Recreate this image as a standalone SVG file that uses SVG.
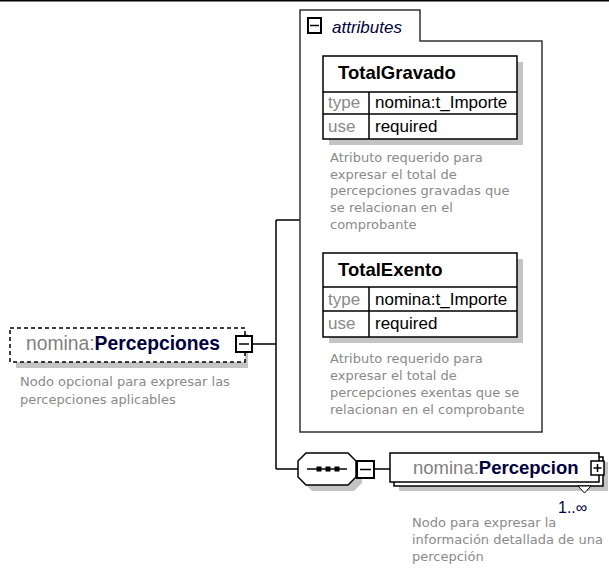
<svg xmlns="http://www.w3.org/2000/svg" width="609" height="579" viewBox="0 0 609 579">
<style>
.lbl{font-family:"Liberation Sans",Arial,sans-serif;font-size:18.5px}
.ns{fill:#7f7f7f}
.nm{fill:#000040;font-weight:bold}
.cell{font-family:"Liberation Sans",Arial,sans-serif;font-size:17px;fill:#000}
.key{fill:#8a8a8a}
.desc{font-family:"DejaVu Sans","Liberation Sans",sans-serif;font-size:13px;fill:#8a8a8a}
.ln{stroke:#000;stroke-width:1.5;fill:none}
.sh{fill:#c4c4c4}
.box{fill:#fff;stroke:#000;stroke-width:1.5}
.btn{fill:#fff;stroke:#000;stroke-width:2}
</style>
<rect x="0" y="0" width="609" height="1.5" fill="#000"/>

<g id="connectors">
<path class="ln" d="M253,344 H276 M276,220 V469 M276,220 H300 M276,469 H298 M375,469 H390"/>
</g>

<g id="attributes">
<path d="M300,432 V10 H420 V41 H542 V432 Z" fill="#fff" stroke="#333" stroke-width="1.5"/>
<rect class="btn" x="308" y="18" width="13" height="15"/>
<line x1="310" y1="25.5" x2="319" y2="25.5" stroke="#000" stroke-width="1.5"/>
<text x="332" y="33" class="lbl" style="font-style:italic;font-size:17px" fill="#000040">attributes</text>
</g>

<g id="TotalGravado">
<rect class="sh" x="329" y="62" width="194" height="83"/>
<rect class="box" x="323" y="56" width="194" height="83"/>
<path class="ln" d="M323,92 H517 M323,114 H517 M369,92 V139" stroke-width="1"/>
<text x="338" y="79" class="lbl nm" style="fill:#000">TotalGravado</text>
<text x="328" y="108" class="cell key">type</text>
<text x="375" y="108" class="cell">nomina:t_Importe</text>
<text x="328" y="132" class="cell key">use</text>
<text x="375" y="132" class="cell">required</text>
<text class="desc"><tspan x="330" y="162">Atributo requerido para</tspan><tspan x="330" y="179">expresar el total de</tspan><tspan x="330" y="195">percepciones gravadas que</tspan><tspan x="330" y="212">se relacionan en el</tspan><tspan x="330" y="229">comprobante</tspan></text>
</g>

<g id="TotalExento">
<rect class="sh" x="329" y="259" width="194" height="84"/>
<rect class="box" x="323" y="253" width="194" height="84"/>
<path class="ln" d="M323,287 H517 M323,311 H517 M369,287 V337" stroke-width="1"/>
<text x="338" y="276" class="lbl nm" style="fill:#000">TotalExento</text>
<text x="328" y="305" class="cell key">type</text>
<text x="375" y="305" class="cell">nomina:t_Importe</text>
<text x="328" y="329" class="cell key">use</text>
<text x="375" y="329" class="cell">required</text>
<text class="desc"><tspan x="330" y="363">Atributo requerido para</tspan><tspan x="330" y="380">expresar el total de</tspan><tspan x="330" y="397">percepciones exentas que se</tspan><tspan x="330" y="414">relacionan en el comprobante</tspan></text>
</g>

<g id="Percepciones">
<rect class="sh" x="16" y="334" width="232" height="34"/>
<rect x="10" y="328" width="235" height="34" fill="#fff" stroke="#000" stroke-width="1.5" stroke-dasharray="4,3"/>
<text x="26" y="350" class="lbl" style="font-size:19.3px"><tspan class="ns">nomina:</tspan><tspan class="nm">Percepciones</tspan></text>
<rect class="btn" x="236" y="336" width="16" height="16"/>
<line x1="239" y1="344" x2="249" y2="344" stroke="#000" stroke-width="1.5"/>
<text class="desc"><tspan x="20" y="386">Nodo opcional para expresar las</tspan><tspan x="20" y="404">percepciones aplicables</tspan></text>
</g>

<g id="sequence">
<polygon class="sh" points="312,459 354,459 362,467 362,483 354,491 312,491 304,483 304,467"/>
<polygon points="306,453 348,453 356,461 356,477 348,485 306,485 298,477 298,461" fill="#fff" stroke="#000" stroke-width="1.5"/>
<line x1="307" y1="469" x2="347" y2="469" stroke="#000" stroke-width="1.5"/>
<rect x="316.5" y="466.5" width="5" height="5" fill="#000"/>
<rect x="325.5" y="466.5" width="5" height="5" fill="#000"/>
<rect x="334.5" y="466.5" width="5" height="5" fill="#000"/>
<rect class="btn" x="357" y="461" width="17" height="17"/>
<line x1="360" y1="469.5" x2="371" y2="469.5" stroke="#000" stroke-width="1.5"/>
</g>

<g id="Percepcion">
<rect class="sh" x="399" y="462" width="209" height="29"/>
<rect class="box" x="394" y="457" width="209" height="29"/>
<rect class="box" x="390" y="453" width="209" height="29"/>
<text x="413" y="474" class="lbl"><tspan class="ns">nomina:</tspan><tspan class="nm">Percepcion</tspan></text>
<rect x="591" y="461" width="13" height="14" fill="#fff" stroke="#000" stroke-width="1.5"/>
<path d="M593.5,468 H601.5 M597.5,464 V472" stroke="#000" stroke-width="1.5"/>
<polygon points="578,486 591,486 584.5,493" fill="#fff" stroke="#000" stroke-width="1"/>
<text x="558" y="513" font-family="Liberation Sans, Arial, sans-serif" font-size="16" fill="#000040">1..∞</text>
<text class="desc"><tspan x="412" y="527">Nodo para expresar la</tspan><tspan x="412" y="544">información detallada de una</tspan><tspan x="412" y="561">percepción</tspan></text>
</g>
</svg>
